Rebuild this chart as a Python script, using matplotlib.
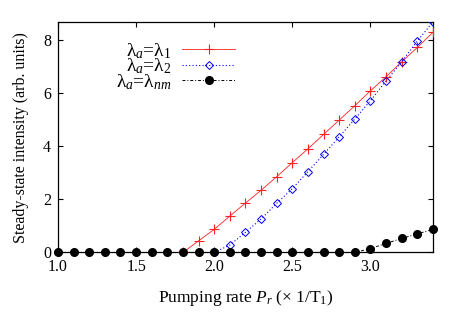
import numpy as np
import matplotlib
matplotlib.use("Agg")
import matplotlib.pyplot as plt

# pumping rate grid (x 1/T1)
pump_nm = [1.0, 1.1, 1.2, 1.3, 1.4, 1.5, 1.6, 1.7, 1.8, 1.9, 2.0, 2.1, 2.2,
           2.3, 2.4, 2.5, 2.6, 2.7, 2.8, 2.9, 3.0, 3.1, 3.2, 3.3, 3.4]
int_nm = [0, 0, 0, 0, 0, 0, 0, 0, 0, 0, 0, 0, 0,
          0, 0, 0, 0, 0, 0, 0, 0.15, 0.34, 0.53, 0.70, 0.87]

pump_1 = [1.8, 1.9, 2.0, 2.1, 2.2, 2.3, 2.4, 2.5, 2.6, 2.7, 2.8, 2.9,
          3.0, 3.1, 3.2, 3.3, 3.4]
int_1 = [0.0, 0.44, 0.87, 1.37, 1.86, 2.34, 2.85, 3.38, 3.90, 4.44, 4.98,
         5.52, 6.08, 6.61, 7.17, 7.71, 8.28]

pump_2 = [2.0, 2.1, 2.2, 2.3, 2.4, 2.5, 2.6, 2.7, 2.8, 2.9, 3.0, 3.1,
          3.2, 3.3, 3.4]
int_2 = [0.0, 0.28, 0.76, 1.26, 1.85, 2.40, 3.04, 3.69, 4.35, 5.02, 5.71,
         6.45, 7.17, 7.95, 8.67]

xticks = [1.0, 1.5, 2.0, 2.5, 3.0]
yticks = [0, 2, 4, 6, 8]

plt.rcParams["font.family"] = "serif"
plt.rcParams["font.serif"] = ["Liberation Serif"]
plt.rcParams["mathtext.fontset"] = "custom"
plt.rcParams["mathtext.rm"] = "Liberation Serif"
plt.rcParams["mathtext.it"] = "Liberation Serif:italic"
plt.rcParams["font.size"] = 11.5

fig = plt.figure(figsize=(4.63, 3.24), dpi=100)
ax = fig.add_axes([0.1253, 0.2207, 0.8097, 0.7123])

ax.plot(pump_1, int_1, color="#ff2020", lw=0.6, marker="+", ms=7,
        mew=0.8, label=r"$\mathrm{\lambda}_{a}$=$\mathrm{\lambda}_{1}$", zorder=3)
ax.plot(pump_2, int_2, color="#0000ff", lw=0.8, ls=(0, (1, 2)), marker="D",
        ms=4.5, mfc="none", mew=0.7,
        label=r"$\mathrm{\lambda}_{a}$=$\mathrm{\lambda}_{2}$", zorder=3)
ax.plot(pump_nm, int_nm, color="black", lw=0.7, ls=(0, (3, 2, 1, 2)),
        marker="o", ms=5.5, label=r"$\mathrm{\lambda}_{a}$=$\mathrm{\lambda}_{nm}$",
        zorder=4, clip_on=False)

ax.set_xlim(1.0, 3.4)
ax.set_ylim(0, 8.68)
ax.set_xticks(xticks)
ax.set_xticklabels([f"{v:.1f}" for v in xticks])
ax.set_yticks(yticks)
ax.tick_params(direction="in", top=True, right=True, length=3.5, width=0.8,
               labelsize=11.5, pad=5)
for s in ax.spines.values():
    s.set_linewidth(0.9)

ax.set_xlabel(r"Pumping rate $P_r$ ($\times$ 1/T$_1$)", fontsize=12.5, labelpad=9)
ax.set_ylabel("Steady-state intensity (arb. units)", fontsize=11.5, labelpad=10)

ax.legend(loc="upper right", bbox_to_anchor=(0.472, 0.916), frameon=False,
          markerfirst=False, handlelength=2.7, handletextpad=0.55,
          labelspacing=-0.22, borderpad=0, borderaxespad=0, fontsize=14)

fig.savefig("out.png", dpi=100)
